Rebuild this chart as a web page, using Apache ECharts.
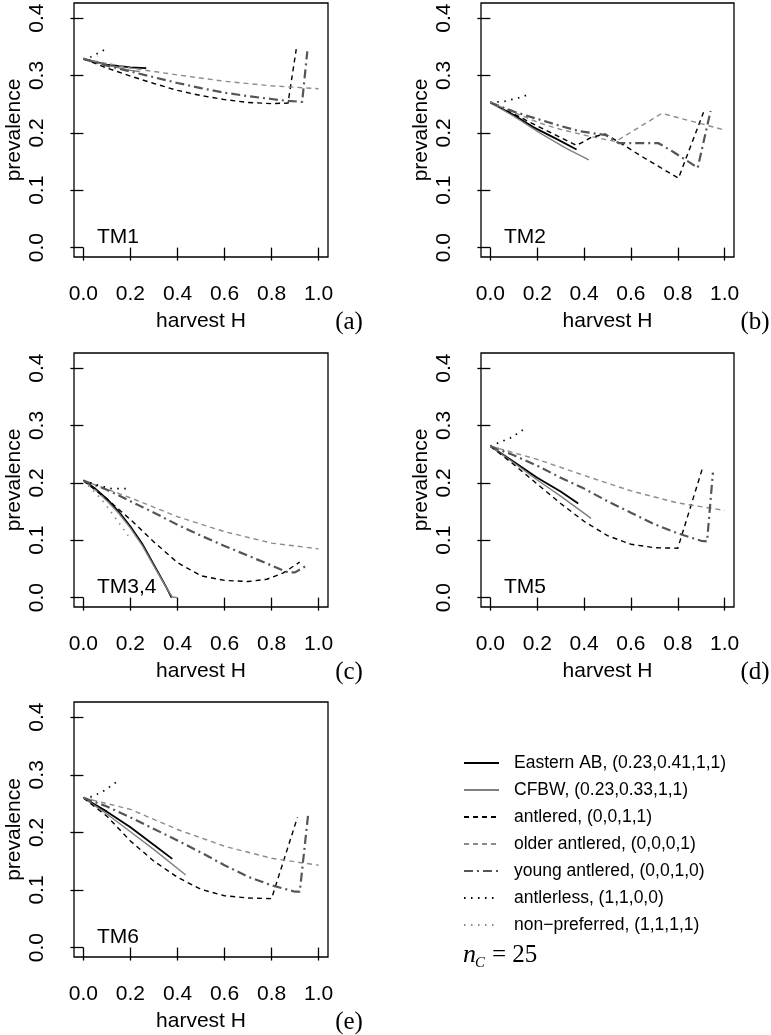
<!DOCTYPE html>
<html>
<head>
<meta charset="utf-8">
<script src="https://cdn.jsdelivr.net/npm/echarts@6/dist/echarts.min.js"></script>
<style>
html,body{margin:0;padding:0;background:#fff;}
#chart{width:771px;height:1035px;}
</style>
</head>
<body>
<div id="chart"></div>
<script>
// ---------- data ----------
const xTicks = [0, 0.2, 0.4, 0.6, 0.8, 1.0];
const yTicks = [0, 0.1, 0.2, 0.3, 0.4];
const panelNames = ['TM1', 'TM2', 'TM3,4', 'TM5', 'TM6'];
const panelLetters = ['(a)', '(b)', '(c)', '(d)', '(e)'];
const seriesNames = [
  'Eastern AB, (0.23,0.41,1,1)',
  'CFBW, (0.23,0.33,1,1)',
  'antlered, (0,0,1,1)',
  'older antlered, (0,0,0,1)',
  'young antlered, (0,0,1,0)',
  'antlerless, (1,1,0,0)',
  'non\u2212preferred, (1,1,1,1)'
];

// TM1 (a)
const tm1Eastern = [[0,0.329],[0.1,0.319],[0.2,0.314],[0.267,0.313]];
const tm1Cfbw = [[0,0.329],[0.1,0.318],[0.2,0.309],[0.24,0.307]];
const tm1Antlered = [[0,0.329],[0.1,0.313],[0.2,0.299],[0.3,0.286],[0.4,0.274],[0.5,0.265],[0.6,0.258],[0.7,0.253],[0.8,0.251],[0.87,0.252],[0.905,0.346]];
const tm1Older = [[0,0.329],[0.2,0.313],[0.4,0.301],[0.6,0.29],[0.8,0.282],[1.0,0.277]];
const tm1Young = [[0,0.329],[0.1,0.317],[0.2,0.307],[0.3,0.297],[0.4,0.287],[0.5,0.278],[0.6,0.27],[0.7,0.264],[0.8,0.259],[0.86,0.256],[0.93,0.254],[0.952,0.342]];
const tm1Antlerless = [[0,0.329],[0.035,0.333],[0.063,0.339],[0.095,0.346]];
const tm1NonPref = [[0,0.329],[0.06,0.334]];

// TM2 (b)
const tm2Eastern = [[0,0.253],[0.1,0.231],[0.183,0.21],[0.28,0.19],[0.368,0.171]];
const tm2Cfbw = [[0,0.253],[0.1,0.229],[0.211,0.2],[0.32,0.174],[0.42,0.153]];
const tm2Antlered = [[0,0.253],[0.1,0.233],[0.2,0.212],[0.3,0.192],[0.368,0.178],[0.43,0.192],[0.49,0.198],[0.549,0.184],[0.634,0.162],[0.72,0.141],[0.803,0.121],[0.91,0.236]];
const tm2Older = [[0,0.253],[0.1,0.236],[0.211,0.217],[0.3,0.206],[0.4225,0.194],[0.535,0.185],[0.732,0.234],[1.0,0.205]];
const tm2Young = [[0,0.253],[0.1,0.237],[0.211,0.223],[0.3,0.212],[0.38,0.203],[0.493,0.196],[0.549,0.182],[0.718,0.182],[0.78,0.167],[0.86,0.146],[0.885,0.139],[0.94,0.238]];
const tm2Antlerless = [[0,0.253],[0.06,0.255],[0.12,0.261],[0.165,0.267]];
const tm2NonPref = [[0,0.253],[0.04,0.248]];

// TM3,4 (c)
const tm3Eastern = [[0,0.204],[0.05,0.19],[0.1,0.172],[0.15,0.15],[0.2,0.124],[0.25,0.094],[0.3,0.057],[0.35,0.02],[0.375,0]];
const tm3Cfbw = [[0,0.204],[0.05,0.188],[0.1,0.169],[0.15,0.147],[0.2,0.121],[0.25,0.091],[0.3,0.055],[0.35,0.019],[0.378,0.001],[0.4,0]];
const tm3Antlered = [[0,0.204],[0.1,0.172],[0.2,0.136],[0.3,0.097],[0.4,0.061],[0.5,0.038],[0.6,0.03],[0.7,0.028],[0.78,0.032],[0.85,0.043],[0.92,0.062]];
const tm3Older = [[0,0.204],[0.2,0.174],[0.4,0.141],[0.6,0.115],[0.8,0.095],[1.0,0.085]];
const tm3Young = [[0,0.204],[0.1,0.188],[0.2,0.168],[0.3,0.148],[0.4,0.127],[0.5,0.108],[0.6,0.09],[0.7,0.073],[0.8,0.056],[0.87,0.044],[0.9,0.044],[0.955,0.057]];
const tm3Antlerless = [[0,0.204],[0.06,0.196],[0.12,0.19],[0.2,0.19]];
const tm3NonPref = [[0,0.204],[0.08,0.17],[0.15,0.131],[0.19,0.108]];

// TM5 (d)
const tm5Eastern = [[0,0.264],[0.1,0.237],[0.2,0.209],[0.3,0.185],[0.375,0.164]];
const tm5Cfbw = [[0,0.264],[0.1,0.235],[0.2,0.205],[0.3,0.177],[0.43,0.138]];
const tm5Antlered = [[0,0.264],[0.1,0.232],[0.2,0.198],[0.3,0.164],[0.4,0.133],[0.5,0.108],[0.6,0.093],[0.7,0.087],[0.8,0.086],[0.905,0.225]];
const tm5Older = [[0,0.264],[0.2,0.241],[0.4,0.213],[0.6,0.186],[0.8,0.165],[1.0,0.152]];
const tm5Young = [[0,0.264],[0.1,0.248],[0.2,0.23],[0.3,0.209],[0.4,0.19],[0.5,0.168],[0.6,0.148],[0.7,0.128],[0.8,0.112],[0.9,0.099],[0.925,0.098],[0.95,0.218]];
const tm5Antlerless = [[0,0.264],[0.035,0.27],[0.09,0.279],[0.148,0.295]];
const tm5NonPref = [[0,0.264],[0.05,0.259]];

// TM6 (e)
const tm6Eastern = [[0,0.26],[0.1,0.236],[0.2,0.209],[0.3,0.178],[0.378,0.154]];
const tm6Cfbw = [[0,0.26],[0.1,0.232],[0.2,0.201],[0.3,0.17],[0.435,0.126]];
const tm6Antlered = [[0,0.26],[0.1,0.228],[0.2,0.185],[0.3,0.15],[0.4,0.122],[0.5,0.101],[0.6,0.09],[0.7,0.086],[0.8,0.085],[0.91,0.226]];
const tm6Older = [[0,0.26],[0.2,0.24],[0.4,0.205],[0.6,0.176],[0.8,0.155],[1.0,0.143]];
const tm6Young = [[0,0.26],[0.1,0.245],[0.2,0.226],[0.3,0.206],[0.4,0.186],[0.5,0.165],[0.6,0.143],[0.7,0.123],[0.8,0.108],[0.9,0.097],[0.92,0.097],[0.955,0.229]];
const tm6Antlerless = [[0,0.26],[0.035,0.262],[0.067,0.268],[0.095,0.274],[0.124,0.283],[0.151,0.29]];
const tm6NonPref = [[0,0.26],[0.05,0.256]];

const panelData = [
  [tm1Eastern, tm1Cfbw, tm1Antlered, tm1Older, tm1Young, tm1Antlerless, tm1NonPref],
  [tm2Eastern, tm2Cfbw, tm2Antlered, tm2Older, tm2Young, tm2Antlerless, tm2NonPref],
  [tm3Eastern, tm3Cfbw, tm3Antlered, tm3Older, tm3Young, tm3Antlerless, tm3NonPref],
  [tm5Eastern, tm5Cfbw, tm5Antlered, tm5Older, tm5Young, tm5Antlerless, tm5NonPref],
  [tm6Eastern, tm6Cfbw, tm6Antlered, tm6Older, tm6Young, tm6Antlerless, tm6NonPref]
];

// ---------- layout / style ----------
const grids = [
  {left: 74, top: 3, width: 254, height: 254},
  {left: 481, top: 3, width: 253, height: 254},
  {left: 74, top: 353, width: 254, height: 254},
  {left: 481, top: 353, width: 253, height: 254},
  {left: 74, top: 702, width: 254, height: 255}
];
const lineStyles = [
  {color: '#000000', width: 1.8, type: 'solid'},
  {color: '#7f7f7f', width: 1.4, type: 'solid'},
  {color: '#000000', width: 1.4, type: [5, 4]},
  {color: '#8c8c8c', width: 1.4, type: [5, 4]},
  {color: '#555555', width: 2.2, type: [9, 4, 2, 4]},
  {color: '#000000', width: 1.7, type: [1.5, 5.5]},
  {color: '#8c8c8c', width: 1.7, type: [1.5, 5.5]}
];
const SANS = 'Liberation Sans, Arial, sans-serif';
const SERIF = 'Liberation Serif, Times New Roman, serif';

const option = {
  animation: false,
  backgroundColor: '#ffffff',
  grid: grids.map(g => Object.assign({show: true, borderColor: '#000', borderWidth: 1.3, backgroundColor: 'transparent'}, g)),
  xAxis: grids.map((g, i) => ({
    type: 'value', gridIndex: i, min: -0.04, max: 1.04,
    name: 'harvest H', nameLocation: 'middle', nameGap: 54,
    nameTextStyle: {fontSize: 21, fontFamily: SANS, color: '#000'},
    axisLine: {show: false},
    axisTick: {show: true, length: 13, customValues: xTicks, lineStyle: {color: '#000', width: 1.3}},
    axisLabel: {show: true, customValues: xTicks, margin: 27, fontSize: 21, fontFamily: SANS, color: '#000',
      formatter: v => v.toFixed(1)},
    splitLine: {show: false}
  })),
  yAxis: grids.map((g, i) => ({
    type: 'value', gridIndex: i, min: -0.0164, max: 0.4264,
    name: 'prevalence', nameLocation: 'middle', nameGap: 49,
    nameTextStyle: {fontSize: 21, fontFamily: SANS, color: '#000'},
    axisLine: {show: false},
    axisTick: {show: true, length: 13, customValues: yTicks, lineStyle: {color: '#000', width: 1.3}},
    axisLabel: {show: true, customValues: yTicks, margin: 26, rotate: 90, fontSize: 21, fontFamily: SANS, color: '#000',
      formatter: v => v.toFixed(1)},
    splitLine: {show: false}
  })),
  legend: {
    orient: 'vertical', left: 463, top: 754, padding: 0,
    itemWidth: 35, itemHeight: 14, itemGap: 9,
    selectedMode: false,
    data: seriesNames,
    itemStyle: {opacity: 0},
    textStyle: {fontSize: 17.5, fontFamily: SANS, color: '#000', padding: [0, 0, 0, 10]}
  },
  series: [],
  graphic: []
};

panelData.forEach((arrs, p) => {
  arrs.forEach((arr, s) => {
    option.series.push({
      type: 'line', name: seriesNames[s], xAxisIndex: p, yAxisIndex: p,
      data: arr, symbol: 'none', showSymbol: false, silent: true, clip: false,
      lineStyle: Object.assign({cap: 'butt', join: 'round'}, lineStyles[s]),
      itemStyle: {color: lineStyles[s].color}
    });
  });
  const g = grids[p];
  option.graphic.push({
    type: 'text', x: g.left + 23, y: g.top + g.height - 20,
    style: {text: panelNames[p], fontSize: 21, fontFamily: SANS, fill: '#000', align: 'left', verticalAlign: 'middle'}
  });
  option.graphic.push({
    type: 'text', x: g.left + g.width + 21, y: g.top + g.height + 65,
    style: {text: panelLetters[p], fontSize: 25, fontFamily: SERIF, fill: '#000', align: 'center', verticalAlign: 'middle'}
  });
});

// n_C = 25
option.graphic.push({type: 'text', x: 463, y: 955,
  style: {text: 'n', fontSize: 26, fontFamily: SERIF, fontStyle: 'italic', fill: '#000', align: 'left', verticalAlign: 'middle'}});
option.graphic.push({type: 'text', x: 475, y: 963,
  style: {text: 'C', fontSize: 15, fontFamily: SERIF, fontStyle: 'italic', fill: '#000', align: 'left', verticalAlign: 'middle'}});
option.graphic.push({type: 'text', x: 492, y: 955,
  style: {text: '= 25', fontSize: 25, fontFamily: SERIF, fill: '#000', align: 'left', verticalAlign: 'middle'}});

const chart = echarts.init(document.getElementById('chart'), null, {renderer: 'canvas'});
chart.setOption(option);
</script>
</body>
</html>
